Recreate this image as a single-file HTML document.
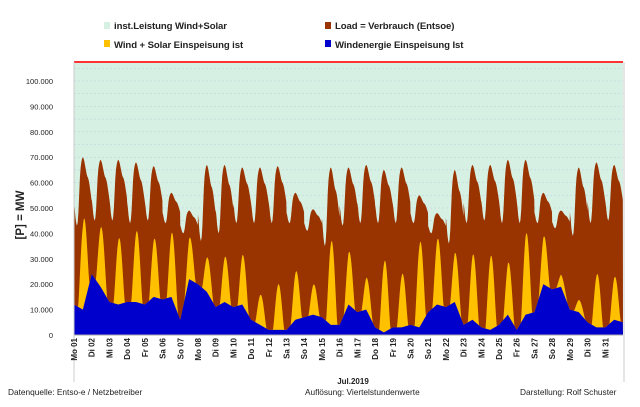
<!DOCTYPE html>
<html><head><meta charset="utf-8"><style>
body{margin:0;background:#fff;width:640px;height:402px;overflow:hidden;font-family:"Liberation Sans",sans-serif}
svg text{font-family:"Liberation Sans",sans-serif}
</style></head><body>
<svg id="c" width="640" height="402" xmlns="http://www.w3.org/2000/svg">
<g font-size="9.6" font-weight="bold" fill="#222" letter-spacing="-0.1">
<g><rect x="104" y="22" width="6" height="7" fill="#d6f0e3"/><text x="114" y="29">inst.Leistung Wind+Solar</text></g>
<g><rect x="104" y="40" width="6" height="7" fill="#ffc000"/><text x="114" y="48">Wind + Solar Einspeisung ist</text></g>
<g><rect x="325" y="22" width="6" height="7" fill="#993300"/><text x="335" y="29">Load =  Verbrauch (Entsoe)</text></g>
<g><rect x="325" y="40" width="6" height="7" fill="#0000cc"/><text x="335" y="48">Windenergie Einspeisung Ist</text></g>
</g>
<g id="plot"></g>
<line x1="624" y1="62" x2="624" y2="382" stroke="#ccc"/>
<text x="24" y="215" font-size="11.5" font-weight="bold" fill="#222" text-anchor="middle" transform="rotate(-90 24 215)">[P] = MW</text>
<text x="353" y="384" font-size="8" font-weight="bold" fill="#222" text-anchor="middle">Jul.2019</text>
<text x="8" y="395" font-size="8.3" fill="#222">Datenquelle:  Entso-e  / Netzbetreiber</text>
<text x="305" y="395" font-size="8.3" fill="#222">Auflösung:  Viertelstundenwerte</text>
<text x="520" y="395" font-size="8.3" fill="#222">Darstellung: Rolf Schuster</text>
</svg>
<script>
const dayLabels=["Mo 01","Di 02","Mi 03","Do 04","Fr 05","Sa 06","So 07","Mo 08","Di 09","Mi 10","Do 11","Fr 12","Sa 13","So 14","Mo 15","Di 16","Mi 17","Do 18","Fr 19","Sa 20","So 21","Mo 22","Di 23","Mi 24","Do 25","Fr 26","Sa 27","So 28","Mo 29","Di 30","Mi 31"];
const yTicks=[0,10000,20000,30000,40000,50000,60000,70000,80000,90000,100000];
const installed=107500;
const loadMax=[70,69,69,68,66.5,56,49,67,67,66,66,66.5,56,49.5,66,66,67,65,66,55,48,65,67,67,69,69,56,49,66,68,67];
const loadMin=[43,45,45,44,45,44,40,37,40,44,44,44,44,41,35,43,44,44,44,44,40,36,44,45,44,44,44,42,39,44,45];
const windSolarPeak=[44,43,38,41,38,41,38.5,31,31,32,16,20,25,20,37,33,23,29,24,36,38,33,32,31,29,40,39,24,14,24,23];
const wind00=[12,24,13,13,12,14,6,20,11,11,6,2,2,7,7,4,9,3,3,4,9,11,4,3,4,2,9,18,10,5,3,5];
const wind12=[10,19,12,13,15,15,22,17,13,12,4,2,6,8,4,12,10,1,3,3,12,13,6,2,8,8,20,19,9,3,6];
const X0=74,X1=623,Y0=335,PX=25.4/10000;
const sx=t=>X0+(X1-X0)*t/31;
const sy=v=>Y0-v*PX;
const prof=[.35,.25,.12,.04,0,.05,.2,.45,.7,.85,.93,.98,1,.98,.94,.88,.82,.76,.72,.7,.66,.6,.52,.44];
const ns="http://www.w3.org/2000/svg";
const plot=document.getElementById('plot');
function mk(tag,attrs){const e=document.createElementNS(ns,tag);for(const k in attrs)e.setAttribute(k,attrs[k]);plot.appendChild(e);return e;}
let bg=mk('rect',{x:X0,y:sy(installed),width:X1-X0,height:Y0-sy(installed),fill:'#d6f0e3'});


for(let v=5000;v<=105000;v+=5000){let g=mk('line',{x1:X0,x2:X1,y1:sy(v),y2:sy(v),stroke:'#bcd',"stroke-width":.5,"stroke-dasharray":"2,2"});

}
let load=[],ws=[],wd=[];
for(let d=0;d<31;d++)for(let q=0;q<96;q++){const h=q/4,hi=Math.floor(h),fr=h-hi;
 const p=prof[hi]*(1-fr)+prof[(hi+1)%24]*fr;
 load.push(loadMin[d]+(loadMax[d]-loadMin[d])*p);
 const w=h<12?wind00[d]+(wind12[d]-wind00[d])*h/12:wind12[d]+(wind00[d+1]-wind12[d])*(h-12)/12;
 wd.push(w);
 let s=Math.sin(Math.PI*(h-5.5)/15.5);s=h>5.5&&h<21?Math.pow(s,1.3):0;
 ws.push(w+Math.max(0,windSolarPeak[d]-wind12[d])*s);}
function area(arr,fill,name){let d=`M${sx(0)},${Y0}`;arr.forEach((v,i)=>d+=`L${sx(i/96).toFixed(2)},${sy(v*1000).toFixed(2)}`);d+=`L${sx(31)},${Y0}Z`;
 const e=mk('path',{d,fill});
 
 }
area(load,'#993300','load-area');area(ws,'#ffc000','wind-solar-area');area(wd,'#0000cc','wind-area');
let red=mk('line',{x1:X0,x2:X1,y1:sy(installed),y2:sy(installed),stroke:'#ff3333',"stroke-width":2});


let ax=mk('line',{x1:X0,x2:X1,y1:Y0,y2:Y0,stroke:'#aaa'});


let ay=mk('line',{x1:X0,x2:X0,y1:sy(installed),y2:382,stroke:'#ccc'});


yTicks.forEach(v=>{const t=mk('text',{x:53,y:sy(v)+3,"font-size":7.5,"text-anchor":"end",fill:'#222'});
 t.textContent=v===0?'0':(v/1000).toFixed(0)+'.000';
 
 });
dayLabels.forEach((l,i)=>{const x=sx(i)+3,y=338;const t=mk('text',{x,y,"font-size":8,"font-weight":"bold","text-anchor":"end",fill:'#222',transform:`rotate(-90 ${x} ${y})`});
 t.textContent=l;
 
 });
</script>
</body></html>
